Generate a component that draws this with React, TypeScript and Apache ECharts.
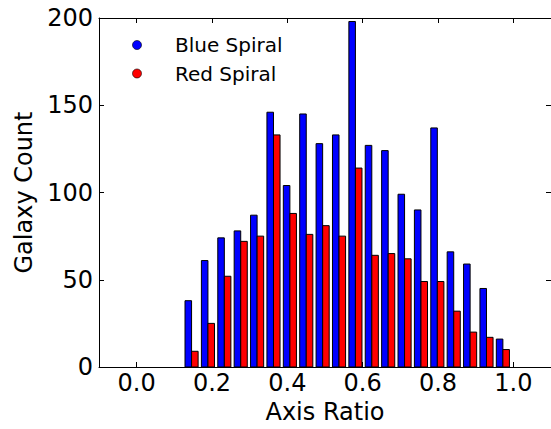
import React, { useEffect, useRef } from "react";
import * as echarts from "echarts";

const binEdges = [0.124, 0.1675, 0.211, 0.2545, 0.298, 0.3415, 0.385, 0.4285, 0.472, 0.5155, 0.559, 0.6025, 0.646, 0.6895, 0.733, 0.7765, 0.82, 0.8635, 0.907, 0.9505, 0.994];
const blueCounts = [38, 61, 74, 78, 87, 146, 104, 145, 128, 133, 198, 127, 124, 99, 90, 137, 66, 59, 45, 16];
const redCounts = [9, 25, 52, 72, 75, 133, 88, 76, 81, 75, 114, 64, 65, 62, 49, 49, 32, 20, 17, 10];
const xTicks = [0, 0.2, 0.4, 0.6, 0.8, 1.0];
const seriesNames = ["Blue Spiral", "Red Spiral"];
const seriesColors = ["#0000ff", "#ff0000"];

const FONT = "DejaVu Sans";

function makeSeries(name: string, counts: number[], color: string, slot: number) {
  const data = counts.map((c, i) => [binEdges[i], binEdges[i + 1], c]);
  return {
    type: "custom",
    name,
    xAxisIndex: 0,
    yAxisIndex: 0,
    encode: { x: [0, 1], y: 2 },
    data,
    renderItem: (params: any, api: any) => {
      const l = api.value(0);
      const r = api.value(1);
      const w = r - l;
      const x0 = l + w * (0.1 + 0.4 * slot);
      const x1 = x0 + w * 0.4;
      const p0 = api.coord([x0, api.value(2)]);
      const p1 = api.coord([x1, 0]);
      return {
        type: "rect",
        shape: { x: p0[0], y: p0[1], width: p1[0] - p0[0], height: p1[1] - p0[1] },
        style: { fill: color, stroke: "#000", lineWidth: 1 },
      };
    },
  };
}

export default function App() {
  const ref = useRef<HTMLDivElement>(null);
  useEffect(() => {
    const chart = echarts.init(ref.current!, null, { renderer: "svg" });
    const axisLine = { show: true, onZero: false, lineStyle: { color: "#000", width: 1 } };
    chart.setOption({
      animation: false,
      backgroundColor: "#fff",
      textStyle: { fontFamily: FONT },
      grid: { left: 99, top: 18, width: 454, height: 350 },
      xAxis: [
        {
          type: "value",
          position: "bottom",
          min: -0.1,
          max: 1.1,
          name: "Axis Ratio",
          nameLocation: "middle",
          nameGap: 33,
          nameTextStyle: { fontSize: 24, color: "#000", fontFamily: FONT },
          axisLine,
          splitLine: { show: false },
          axisTick: { show: true, inside: true, length: 5, customValues: xTicks, lineStyle: { color: "#000" } },
          axisLabel: {
            customValues: xTicks,
            formatter: (v: number) => v.toFixed(1),
            fontSize: 24,
            color: "#000",
            fontFamily: FONT,
            margin: 4,
          },
        },
        {
          type: "value",
          position: "top",
          min: -0.1,
          max: 1.1,
          axisLine,
          splitLine: { show: false },
          axisTick: { show: true, inside: true, length: 5, customValues: xTicks, lineStyle: { color: "#000" } },
          axisLabel: { show: false, customValues: xTicks },
        },
      ],
      yAxis: [
        {
          type: "value",
          position: "left",
          min: 0,
          max: 200,
          interval: 50,
          name: "Galaxy Count",
          nameLocation: "middle",
          nameGap: 63,
          nameTextStyle: { fontSize: 24, color: "#000", fontFamily: FONT },
          axisLine,
          splitLine: { show: false },
          axisTick: { show: true, inside: true, length: 5, lineStyle: { color: "#000" } },
          axisLabel: { fontSize: 24, color: "#000", fontFamily: FONT, margin: 6 },
        },
        {
          type: "value",
          position: "right",
          min: 0,
          max: 200,
          interval: 50,
          axisLine,
          splitLine: { show: false },
          axisTick: { show: true, inside: true, length: 5, lineStyle: { color: "#000" } },
          axisLabel: { show: false },
        },
      ],
      graphic: [
        { type: "circle", shape: { cx: 137, cy: 45, r: 4.5 }, style: { fill: seriesColors[0], stroke: "#000", lineWidth: 0.6 } },
        { type: "text", x: 175, y: 45, style: { text: seriesNames[0], fontSize: 20, fontFamily: FONT, fill: "#000", verticalAlign: "middle", align: "left" } },
        { type: "circle", shape: { cx: 137, cy: 73.5, r: 4.5 }, style: { fill: seriesColors[1], stroke: "#000", lineWidth: 0.6 } },
        { type: "text", x: 175, y: 73.5, style: { text: seriesNames[1], fontSize: 20, fontFamily: FONT, fill: "#000", verticalAlign: "middle", align: "left" } },
      ],
      series: [
        makeSeries(seriesNames[0], blueCounts, seriesColors[0], 0),
        makeSeries(seriesNames[1], redCounts, seriesColors[1], 1),
      ],
    });
    return () => chart.dispose();
  }, []);
  return <div ref={ref} style={{ position: "absolute", left: 0, top: 0, width: 551, height: 429 }} />;
}
